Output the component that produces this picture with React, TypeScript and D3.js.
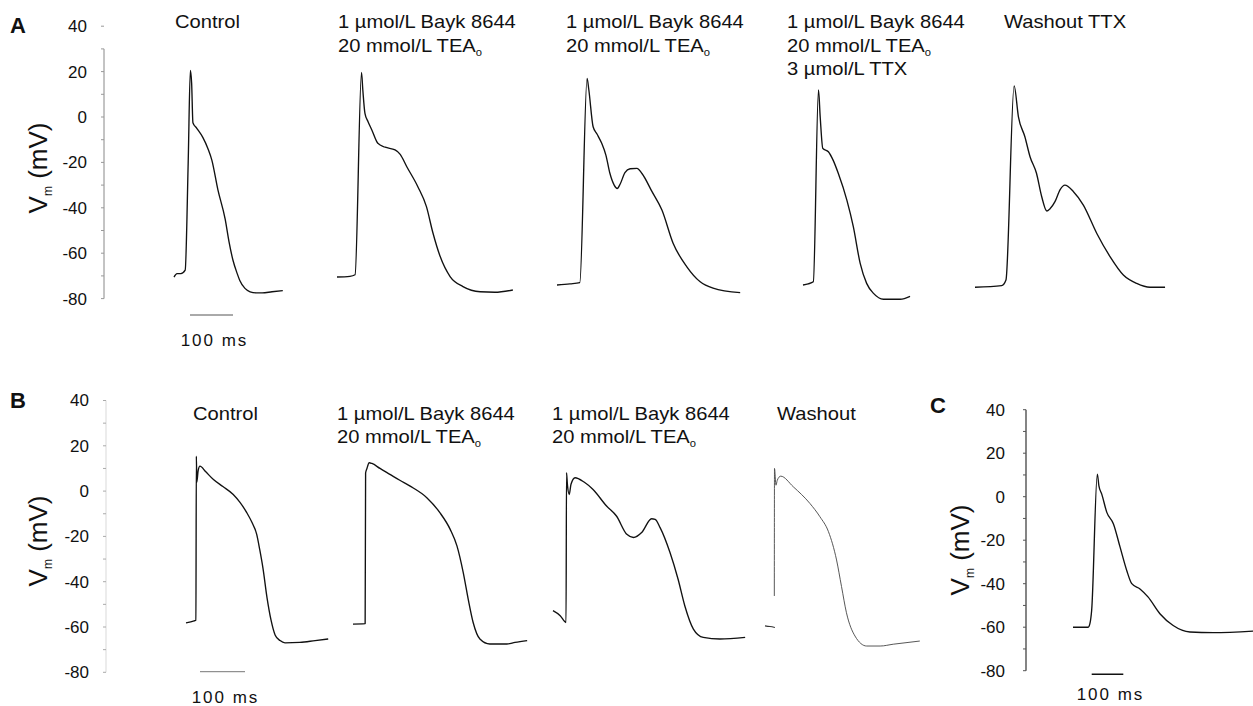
import React from 'react';
import * as d3 from 'd3';

// Action potentials, panels A, B and C (time in ms from trace start, Vm in mV)

const FONT = "Arial, 'Liberation Sans', Helvetica, sans-serif";

const vTicks = [40, 20, 0, -20, -40, -60, -80];

// panel A
const aControl = [[0,-70.5],[7,-69],[16,-69],[26,-67.5],[33,-20],[38,20.5],[41,15],[44,-2.5],[53,-5],[67,-9],[79,-14],[88,-19],[102,-32],[119,-45],[128,-55],[137,-63],[147,-69],[153,-72],[165,-75.5],[177,-77],[191,-77.5],[205,-77.5],[228,-77],[253,-76.5]];
const aBayk = [[0,-70.5],[30,-70.2],[42,-69.5],[57,19.6],[60,12],[65,1.6],[72,-2],[81,-5.7],[95,-11.6],[112,-13.3],[135,-14.5],[147,-16.5],[162,-21.8],[188,-30.7],[208,-39.5],[223,-51],[240,-61.5],[263,-70.3],[293,-74.7],[333,-77],[367,-77.2],[409,-76.2]];
const aBayk2 = [[0,-74],[30,-73.5],[53,-73],[70,17],[74,12],[84,-4.3],[93,-7.5],[104,-11.6],[114,-17],[123,-24.8],[133,-30],[140,-31.5],[147,-29.5],[158,-24.5],[170,-22.8],[186,-22.6],[198,-25],[221,-32.9],[244,-41],[270,-55.6],[302,-66],[333,-72.6],[363,-75.4],[426,-77.4]];
const aTTX = [[0,-74],[12,-73.5],[24,-72.6],[36,11.9],[40,0],[46,-13.8],[59,-15.3],[70,-19],[82,-24.8],[102,-36.6],[117,-48.3],[133,-64.5],[148,-73.3],[164,-77.7],[187,-80.3],[226,-80.3],[249,-79]];
const aWashout = [[0,-75],[62,-74.3],[72,-71.8],[91,13.7],[101,0.1],[116,-8.7],[128,-17.5],[143,-24.8],[155,-35],[167,-41.4],[174,-40.5],[186,-37.3],[198,-32],[209,-30],[229,-32.9],[252,-38.8],[283,-51.2],[314,-61.5],[345,-69.6],[376,-73.3],[407,-75],[442,-75]];

// panel B
const bControl = [[0,-58.2],[18,-57.3],[22,-57],[23,15.4],[24,4],[27,9],[31,11],[44,8.5],[61,5.1],[82,2],[105,-1.5],[120,-5],[135,-9.5],[147,-14],[157,-19],[164,-26],[171,-34],[180,-47],[189,-57],[198,-63.5],[209,-66],[220,-67],[253,-66.8],[287,-66],[316,-65.3]];
const bBayk = [[0,-58.7],[27,-58.5],[28,8],[31,10],[36,12.5],[42,12.2],[60,10],[82,7.4],[104,4.8],[127,2.2],[164,-2.9],[193,-9.5],[216,-16.9],[231,-24.2],[245,-36],[256,-47.7],[267,-58],[282,-65.3],[304,-67.5],[342,-67.5],[360,-66.8],[387,-66]];
const bBayk2 = [[0,-52.8],[16,-55],[29,-58],[30,8.1],[32,3],[36,-1.5],[40,3],[49,5.9],[69,4],[89,0.7],[119,-6.6],[141,-11],[164,-19.1],[179,-20.5],[197,-18.3],[219,-12.2],[227,-12.5],[238,-16.1],[260,-27.1],[278,-38.9],[293,-50.7],[312,-60.9],[334,-64.6],[371,-65.3],[427,-64.6]];
const bWashoutPre = [[0,-59.5],[11,-59.8],[22,-60.2]];
const bWashout = [[20.7,-46.3],[21.1,10],[24.4,2.6],[27.3,4.8],[34.9,6.6],[62.9,1.9],[100,-5.5],[122,-11.3],[141,-17.9],[159,-30.4],[170,-42.1],[181,-53.7],[200,-64],[226,-68.4],[256,-68.4],[285,-67.6],[344,-66.2]];

// panel C
const cTrace = [[0,-60],[48,-60],[54,-58],[59,-52.3],[77,10.4],[82,5],[91,1.2],[107,-7.2],[128,-12.5],[149,-23.2],[170,-33.9],[186,-40],[212,-42.4],[238,-46.2],[275,-53.8],[317,-59.2],[370,-62.2],[444,-62.5],[570,-61.8]];

const aTitles = [
  ['Control'],
  ['1 \u00b5mol/L Bayk 8644', '20 mmol/L TEA_o'],
  ['1 \u00b5mol/L Bayk 8644', '20 mmol/L TEA_o'],
  ['1 \u00b5mol/L Bayk 8644', '20 mmol/L TEA_o', '3 \u00b5mol/L TTX'],
  ['Washout TTX'],
];
const bTitles = [
  ['Control'],
  ['1 \u00b5mol/L Bayk 8644', '20 mmol/L TEA_o'],
  ['1 \u00b5mol/L Bayk 8644', '20 mmol/L TEA_o'],
  ['Washout'],
];

const Title = ({ x, y, lines, gap }) => (
  <g>
    {lines.map((l, i) => {
      const [main, sub] = l.split('_');
      return (
        <text key={i} transform={`translate(${x},${y + i * gap}) scale(1.12,1)`} fontSize={18} fontFamily={FONT} fill="#111">
          {main}
          {sub && <tspan fontSize={10} dy={4}>{sub}</tspan>}
        </text>
      );
    })}
  </g>
);

const Trace = ({ data, x0, msScale, yScale, stroke = '#111', width = 1.35 }) => {
  const line = d3.line().curve(d3.curveMonotoneX).x(d => x0 + msScale(d[0])).y(d => yScale(d[1]));
  return <path d={line(data)} fill="none" stroke={stroke} strokeWidth={width} strokeLinejoin="round" />;
};

const Axis = ({ x, yScale, labelRight, top, stroke, width, tickColor }) => (
  <g>
    <line x1={x} x2={x} y1={yScale(top)} y2={yScale(-80)} stroke={stroke} strokeWidth={width} />
    {d3.range(-80, 41, 10).map(v => (
      <line key={v} x1={x - 3} x2={x} y1={yScale(v)} y2={yScale(v)} stroke={tickColor} strokeWidth={1} />
    ))}
    {vTicks.map(v => (
      <text key={v} x={labelRight} y={yScale(v)} dy="0.35em" textAnchor="end" fontSize={17} fontFamily={FONT} fill="#111">{v}</text>
    ))}
  </g>
);

const YLabel = ({ x, y }) => (
  <text transform={`translate(${x},${y}) rotate(-90)`} textAnchor="middle" fontSize={26} fontFamily={FONT} fill="#111">
    V<tspan fontSize={12} dy={5}>m</tspan><tspan dy={-5}> (mV)</tspan>
  </text>
);

const ScaleBar = ({ x, y, msScale, textY, stroke, width }) => (
  <g>
    <line x1={x} x2={x + msScale(100)} y1={y} y2={y} stroke={stroke} strokeWidth={width} />
    <text x={x + msScale(100) / 2 + 3} y={textY} textAnchor="middle" fontSize={17} letterSpacing={2} fontFamily={FONT} fill="#111">100 ms</text>
  </g>
);

const PanelLetter = ({ x, y, children }) => (
  <text x={x} y={y} fontSize={22} fontWeight="bold" fontFamily={FONT} fill="#111">{children}</text>
);

const App = () => {
  const yA = d3.scaleLinear().domain([-80, 40]).range([298.6, 26.2]);
  const yB = d3.scaleLinear().domain([-80, 40]).range([672.3, 400.5]);
  const yC = d3.scaleLinear().domain([-80, 40]).range([670.7, 409.7]);
  const tA = d3.scaleLinear().domain([0, 100]).range([0, 43]);
  const tB = d3.scaleLinear().domain([0, 100]).range([0, 45]);
  const tC = d3.scaleLinear().domain([0, 100]).range([0, 31.6]);

  const aTraces = [aControl, aBayk, aBayk2, aTTX, aWashout];
  const aStarts = [174, 337, 557, 803, 975];
  const aTitleX = [175, 338, 566, 787, 1004];
  const bTraces = [bControl, bBayk, bBayk2];
  const bStarts = [186, 353, 553];
  const bTitleX = [193, 337, 552, 777];

  return (
    <svg width={1253} height={706} style={{ position: 'absolute', left: 0, top: 0, background: '#fff' }}>
      {/* A */}
      <PanelLetter x={10} y={33}>A</PanelLetter>
      <Axis x={104} yScale={yA} labelRight={87} top={30} stroke="#888" width={1} tickColor="#999" />
      <YLabel x={47} y={168} />
      {aTraces.map((d, i) => (
        <Trace key={i} data={d} x0={aStarts[i]} msScale={tA} yScale={yA} />
      ))}
      {aTitles.map((l, i) => (
        <Title key={i} x={aTitleX[i]} y={28} lines={l} gap={23.5} />
      ))}
      <ScaleBar x={190} y={315} msScale={tA} textY={346} stroke="#555" width={1} />

      {/* B */}
      <PanelLetter x={10} y={408}>B</PanelLetter>
      <Axis x={106} yScale={yB} labelRight={89} top={40} stroke="#cfcfcf" width={0.8} tickColor="#aaa" />
      <YLabel x={47} y={541} />
      {bTraces.map((d, i) => (
        <Trace key={i} data={d} x0={bStarts[i]} msScale={tB} yScale={yB} />
      ))}
      <Trace data={bWashoutPre} x0={765} msScale={tB} yScale={yB} stroke="#333" width={1.1} />
      <Trace data={bWashout} x0={765} msScale={tB} yScale={yB} stroke="#444" width={0.9} />
      {bTitles.map((l, i) => (
        <Title key={i} x={bTitleX[i]} y={420} lines={l} gap={22.5} />
      ))}
      <ScaleBar x={200} y={671.7} msScale={tB} textY={703} stroke="#777" width={1} />

      {/* C */}
      <PanelLetter x={930} y={413}>C</PanelLetter>
      <Axis x={1026} yScale={yC} labelRight={1005} top={40} stroke="#333" width={1.2} tickColor="#555" />
      <YLabel x={969} y={550} />
      <Trace data={cTrace} x0={1073} msScale={tC} yScale={yC} />
      <ScaleBar x={1091.7} y={674.3} msScale={tC} textY={700} stroke="#111" width={1.6} />
    </svg>
  );
};

export default App;
